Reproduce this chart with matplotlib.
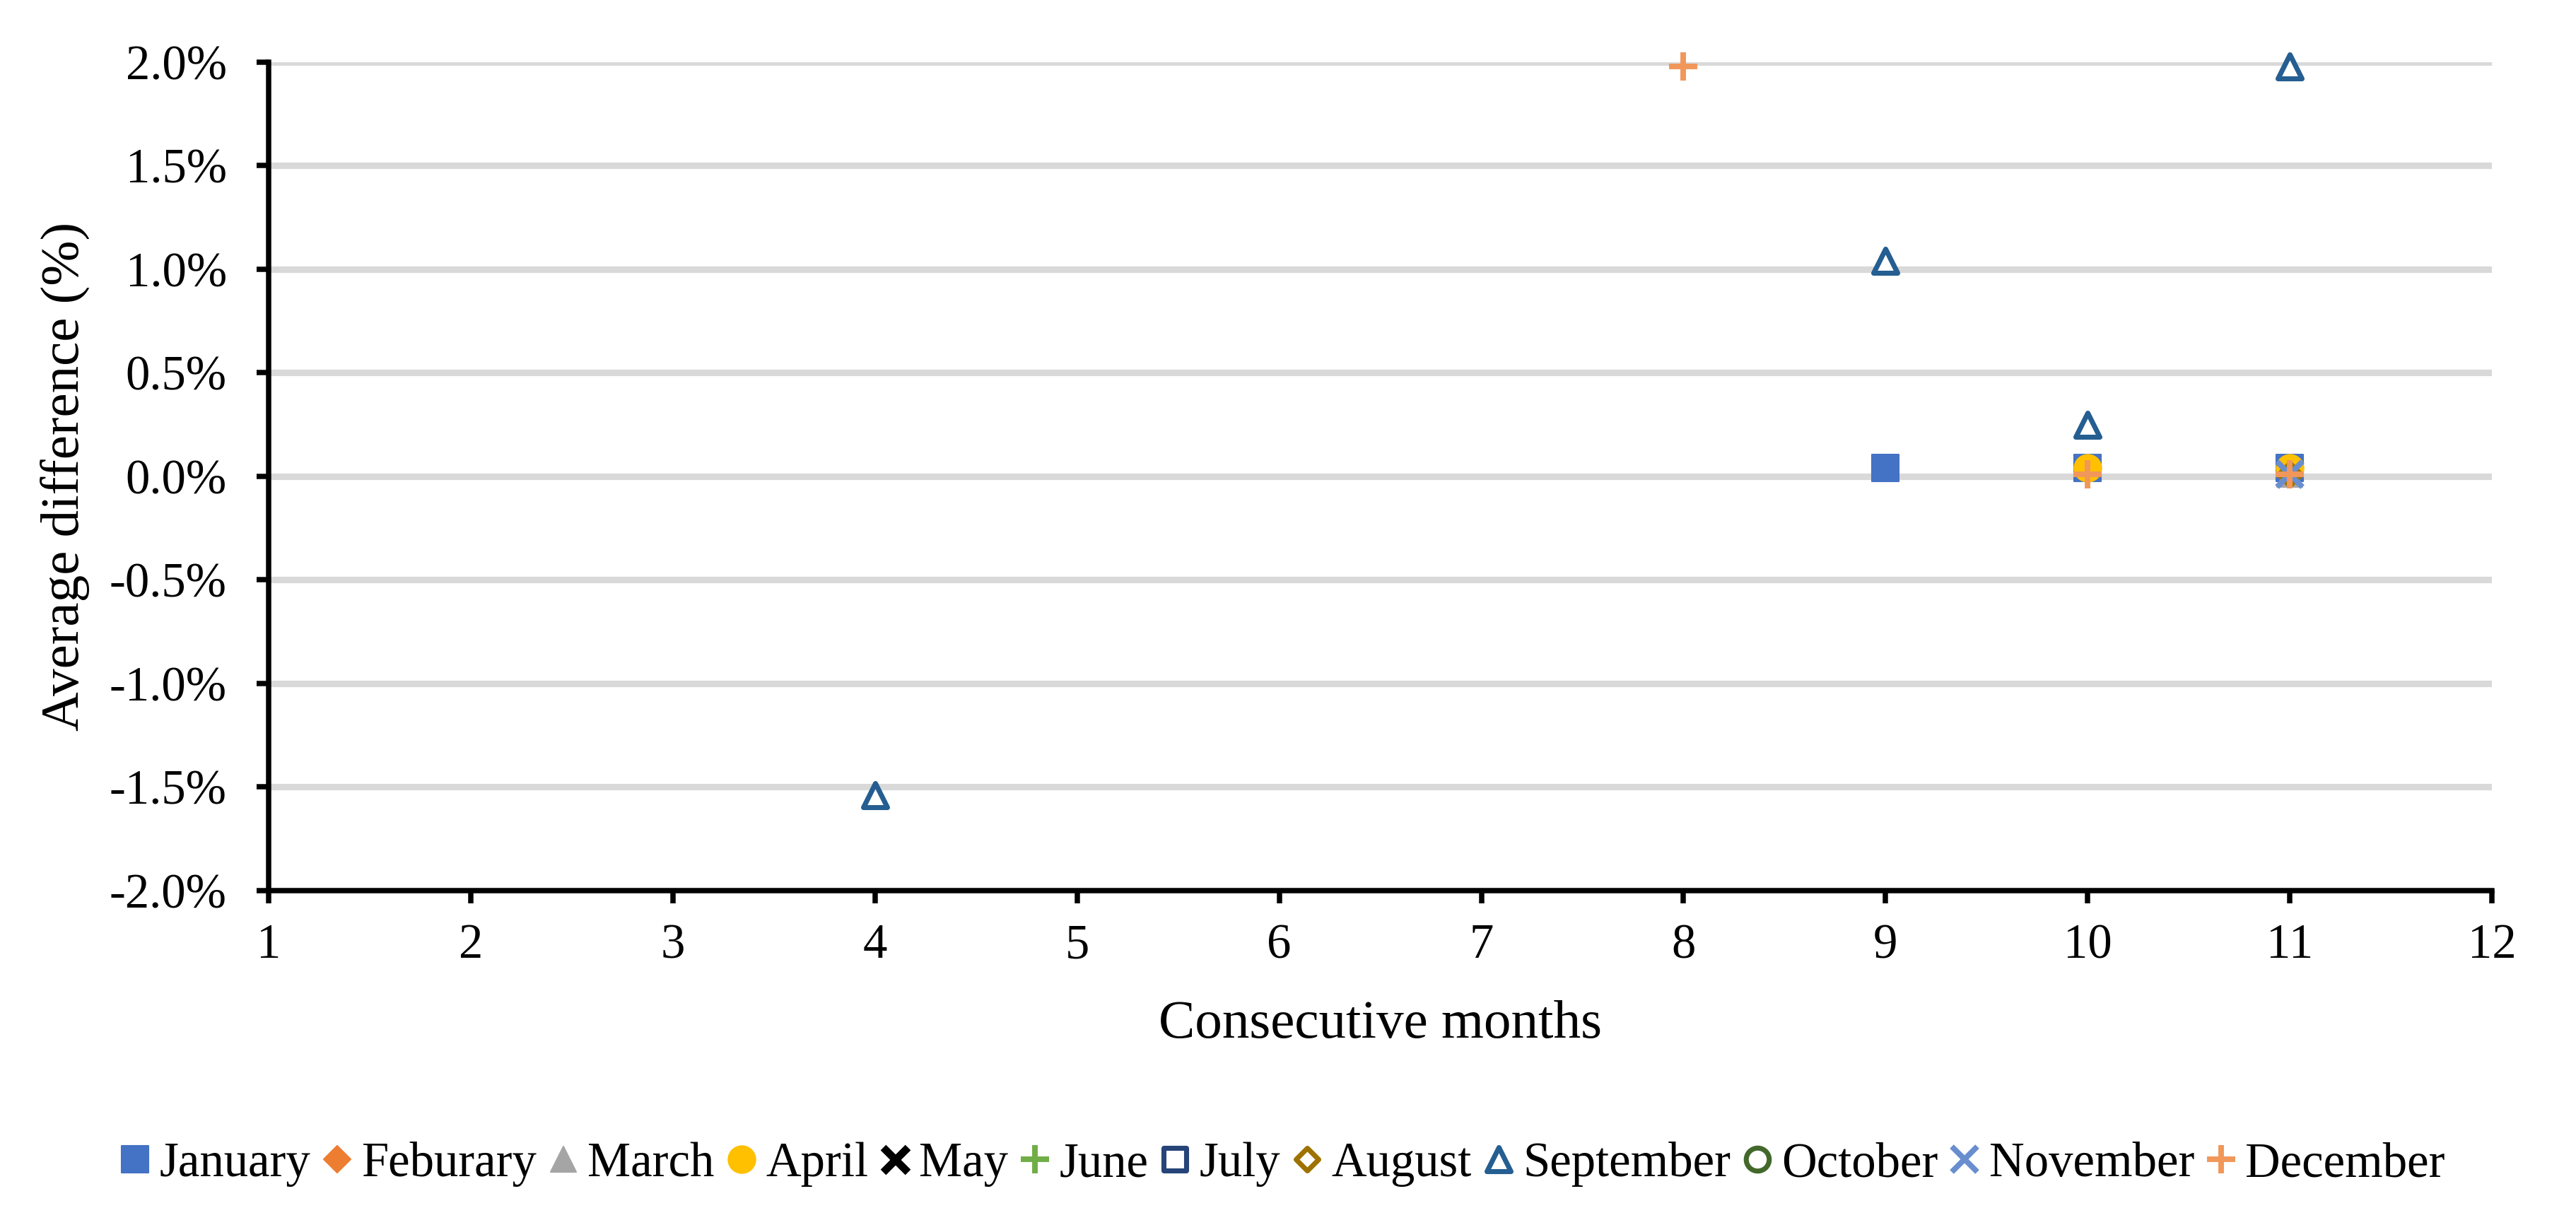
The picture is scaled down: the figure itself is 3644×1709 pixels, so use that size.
import matplotlib.pyplot as plt
from matplotlib.markers import MarkerStyle
from matplotlib.ticker import FuncFormatter


FIGURE_SIZE = (12.147, 5.697)
FIGURE_DPI = 300
FONT = "Liberation Serif"

MONTHS = ["January", "Feburary", "March", "April", "May", "June",
          "July", "August", "September", "October", "November", "December"]

# x = consecutive months, y = average difference in %
JAN_X = [9, 10, 11]
JAN_Y = [0.04, 0.04, 0.04]
FEB_X = []
FEB_Y = []
MAR_X = [11]
MAR_Y = [0.01]
APR_X = [10, 11]
APR_Y = [0.04, 0.04]
MAY_X = []
MAY_Y = []
JUN_X = []
JUN_Y = []
JUL_X = []
JUL_Y = []
AUG_X = [11]
AUG_Y = [0.01]
SEP_X = [4, 9, 10, 11]
SEP_Y = [-1.54, 1.04, 0.25, 1.98]
OCT_X = []
OCT_Y = []
NOV_X = [11]
NOV_Y = [0.01]
DEC_X = [8, 10, 11]
DEC_Y = [1.98, 0.01, 0.01]

XTICKS = list(range(1, 13))
YTICKS = [-2.0, -1.5, -1.0, -0.5, 0.0, 0.5, 1.0, 1.5, 2.0]

# marker, size, edge width, face, edge
STYLES = [
    ("s", 9.1, 0.5, "#4472C4", "#4472C4"),
    ("D", 6.4, 0.5, "#ED7D31", "#ED7D31"),
    ("^", 8.6, 0.5, "#A5A5A5", "#A5A5A5"),
    ("o", 9.2, 0.5, "#FFC000", "#FFC000"),
    ("x", 8.4, 2.6, "black", "black"),
    ("+", 9.4, 1.9, "#70AD47", "#70AD47"),
    ("s", 7.8, 1.7, "white", "#264478"),
    ("D", 5.4, 1.7, "white", "#9E7200"),
    ("^", 8.0, 1.7, "white", "#255E91"),
    ("o", 7.8, 1.7, "white", "#43682B"),
    ("x", 8.6, 1.9, "#698ED0", "#698ED0"),
    ("+", 9.4, 1.9, "#F1975A", "#F1975A"),
]


def main():
    plt.rcParams["font.family"] = [FONT, "DejaVu Serif"]

    xs = [JAN_X, FEB_X, MAR_X, APR_X, MAY_X, JUN_X,
          JUL_X, AUG_X, SEP_X, OCT_X, NOV_X, DEC_X]
    ys = [JAN_Y, FEB_Y, MAR_Y, APR_Y, MAY_Y, JUN_Y,
          JUL_Y, AUG_Y, SEP_Y, OCT_Y, NOV_Y, DEC_Y]

    fig = plt.figure(figsize=FIGURE_SIZE, dpi=FIGURE_DPI)
    ax = fig.add_axes([0.10428, 0.26273, 0.86306, 0.68578])

    for i, month in enumerate(MONTHS):
        marker, size, mew, face, edge = STYLES[i]
        ax.plot(xs[i], ys[i], linestyle="none",
                marker=MarkerStyle(marker, joinstyle="round"),
                markersize=size, markeredgewidth=mew,
                markerfacecolor=face, markeredgecolor=edge,
                label=month, clip_on=False, zorder=3 + i * 0.01)

    ax.set_xlim(1, 12)
    ax.set_ylim(-2.0, 2.0)
    ax.set_xticks(XTICKS)
    ax.set_yticks(YTICKS)
    ax.yaxis.set_major_formatter(FuncFormatter(lambda v, p: f"{v:.1f}%"))

    ax.spines["top"].set_visible(False)
    ax.spines["right"].set_visible(False)
    for side in ("left", "bottom"):
        ax.spines[side].set_linewidth(1.8)
        ax.spines[side].set_color("black")

    ax.grid(True, axis="y", color="#D9D9D9", linewidth=2.2)
    ax.set_axisbelow(True)

    ax.tick_params(axis="both", labelsize=16.5, width=1.8, length=4.2,
                   direction="out", color="black")
    ax.tick_params(axis="y", pad=10)
    ax.tick_params(axis="x", pad=7)

    ax.set_xlabel("Consecutive months", fontsize=18.5)
    ax.set_ylabel("Average difference (%)", fontsize=18.5)
    ax.xaxis.set_label_coords(0.5, -0.132)
    ax.yaxis.set_label_coords(-0.0801, 0.5)

    fig.legend(loc="center", bbox_to_anchor=(0.497, 0.0363), ncol=12,
               frameon=False, fontsize=16.5, handlelength=0.8,
               handletextpad=0.1, columnspacing=0.15, borderaxespad=0)

    fig.savefig("out.png", dpi=FIGURE_DPI, facecolor="white")


if __name__ == "__main__":
    main()
